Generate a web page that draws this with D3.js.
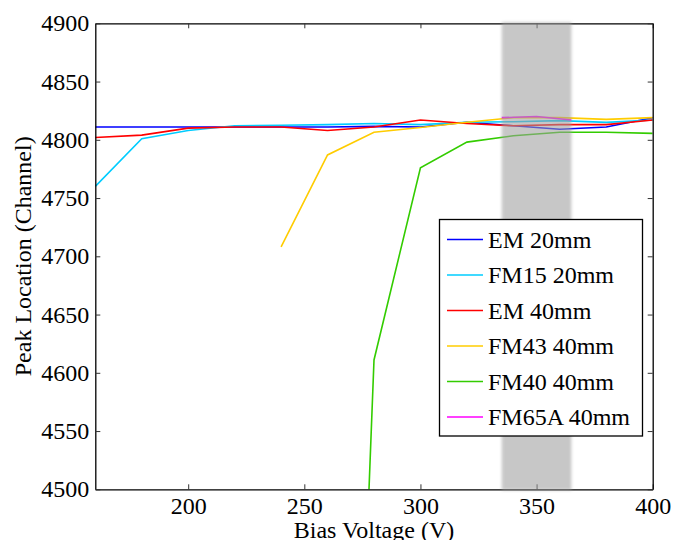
<!DOCTYPE html>
<html>
<head>
<meta charset="utf-8">
<script src="https://cdn.jsdelivr.net/npm/d3@7"></script>
<style>
  body { margin: 0; background: #fff; }
  svg, svg text { font-family: "Liberation Serif", "Times New Roman", "DejaVu Serif", serif; }
  svg { display: block; }
</style>
</head>
<body>
<svg id="chart" width="673" height="540"></svg>
<script>
// data
const em20V = [160, 180, 200, 220, 240, 260, 280, 300, 320, 340, 360, 380, 400];
const em20 = [4811, 4811, 4811, 4811, 4811, 4811, 4811.5, 4811, 4815, 4812, 4809, 4811, 4819];

const fm15V = [160, 180, 200, 220, 240, 260, 280, 300, 320, 340, 360, 380, 400];
const fm15 = [4760, 4801, 4808, 4812, 4812.5, 4813, 4814, 4813, 4815, 4815.5, 4816.5, 4815, 4817];

const em40V = [160, 180, 200, 220, 240, 260, 280, 300, 320, 340, 360, 380, 400];
const em40 = [4802, 4804, 4810, 4811, 4811, 4808, 4811, 4817, 4814, 4812, 4813, 4813, 4817];

const fm43V = [240, 260, 280, 300, 320, 340, 360, 380, 400];
const fm43 = [4708, 4787, 4806.5, 4810.5, 4815, 4819, 4819, 4817.5, 4819];

const fm40V = [260, 280, 300, 320, 340, 360, 380, 400];
const fm40 = [3580, 4611, 4776, 4798, 4803.5, 4806.5, 4806.5, 4805.5];

const fm65V = [335, 350, 365];
const fm65 = [4819, 4820, 4817];

const seriesNames = ['EM 20mm', 'FM15 20mm', 'EM 40mm', 'FM43 40mm', 'FM40 40mm', 'FM65A 40mm'];
const seriesColors = ['#0000ff', '#00ccff', '#ff0000', '#ffcc00', '#33cc00', '#ff00ff'];

const bandRange = [335, 365];
const xTicks = [200, 250, 300, 350, 400];
const yTicks = [4500, 4550, 4600, 4650, 4700, 4750, 4800, 4850, 4900];

const series = [
  [em20V, em20], [fm15V, fm15], [em40V, em40],
  [fm43V, fm43], [fm40V, fm40], [fm65V, fm65]
].map(([v, p], i) => ({
  name: seriesNames[i],
  color: seriesColors[i],
  values: v.map((x, j) => ({ x: x, y: p[j] }))
}));

// layout
const margin = { top: 23.3, right: 20.3, bottom: 50.7, left: 95.3 };
const width = 673;
const height = 540;
const serif = '"Liberation Serif", "Times New Roman", serif';

const svg = d3.select('#chart');

const x = d3.scaleLinear()
  .domain([160, 400])
  .range([margin.left, width - margin.right]);

const y = d3.scaleLinear()
  .domain([4500, 4900])
  .range([height - margin.bottom, margin.top]);

const defs = svg.append('defs');

defs.append('clipPath')
  .attr('id', 'plot-clip')
  .append('rect')
  .attr('x', margin.left)
  .attr('y', margin.top)
  .attr('width', x(400) - x(160))
  .attr('height', y(4500) - y(4900));

defs.append('filter')
  .attr('id', 'soft')
  .attr('x', '-20%').attr('y', '-5%')
  .attr('width', '140%').attr('height', '110%')
  .append('feGaussianBlur').attr('stdDeviation', 1.6);

// lines
const line = d3.line()
  .x(d => x(d.x))
  .y(d => y(d.y));

svg.append('g')
  .attr('clip-path', 'url(#plot-clip)')
  .selectAll('path')
  .data(series)
  .enter()
  .append('path')
  .attr('d', d => line(d.values))
  .attr('fill', 'none')
  .attr('stroke', d => d.color)
  .attr('stroke-width', 1.6);

// axes, ticks inward on all four sides
const fmt = d3.format('d');

const axisB = svg.append('g')
  .attr('transform', `translate(0,${y(4500)})`)
  .call(d3.axisBottom(x).tickValues(xTicks).tickFormat(fmt).tickSizeInner(-5).tickSizeOuter(0).tickPadding(8));

const axisT = svg.append('g')
  .attr('transform', `translate(0,${y(4900)})`)
  .call(d3.axisTop(x).tickValues(xTicks).tickSizeInner(-5).tickSizeOuter(0).tickFormat(''));

const axisL = svg.append('g')
  .attr('transform', `translate(${x(160)},0)`)
  .call(d3.axisLeft(y).tickValues(yTicks).tickFormat(fmt).tickSizeInner(-5).tickSizeOuter(0).tickPadding(6));

const axisR = svg.append('g')
  .attr('transform', `translate(${x(400)},0)`)
  .call(d3.axisRight(y).tickValues(yTicks).tickSizeInner(-5).tickSizeOuter(0).tickFormat(''));

[axisB, axisT, axisL, axisR].forEach(g => {
  g.attr('font-family', serif).attr('font-size', 24);
  g.selectAll('.domain').attr('stroke', '#000').attr('stroke-width', 1.3);
  g.selectAll('.tick line').attr('stroke', '#333').attr('stroke-width', 1);
  g.selectAll('text').attr('fill', '#000');
});

// shaded band over the lines and axes
svg.append('rect')
  .attr('x', x(bandRange[0]))
  .attr('y', y(4900) - 1)
  .attr('width', x(bandRange[1]) - x(bandRange[0]))
  .attr('height', y(4500) - y(4900) + 2)
  .attr('fill', 'rgb(158,158,158)')
  .attr('opacity', 0.57)
  .attr('filter', 'url(#soft)');

// axis titles
svg.append('text')
  .attr('x', (x(160) + x(400)) / 2)
  .attr('y', 538)
  .attr('text-anchor', 'middle')
  .attr('font-size', 24)
  .text('Bias Voltage (V)');

svg.append('text')
  .attr('transform', `translate(31,${(y(4500) + y(4900)) / 2}) rotate(-90)`)
  .attr('text-anchor', 'middle')
  .attr('font-size', 24)
  .text('Peak Location (Channel)');

// legend
const legend = svg.append('g');
legend.append('rect')
  .attr('x', 439.5)
  .attr('y', 219.5)
  .attr('width', 203)
  .attr('height', 216.5)
  .attr('fill', '#fff')
  .attr('stroke', '#000')
  .attr('stroke-width', 1.3);

const item = legend.selectAll('g.item')
  .data(series)
  .enter()
  .append('g')
  .attr('class', 'item')
  .attr('transform', (d, i) => `translate(0,${239.5 + i * 35.5})`);

item.append('line')
  .attr('x1', 447).attr('x2', 483)
  .attr('y1', 0).attr('y2', 0)
  .attr('stroke', d => d.color)
  .attr('stroke-width', 1.6);

item.append('text')
  .attr('x', 488)
  .attr('y', 0)
  .attr('dy', '0.34em')
  .attr('font-size', 24)
  .text(d => d.name);
</script>
</body>
</html>
